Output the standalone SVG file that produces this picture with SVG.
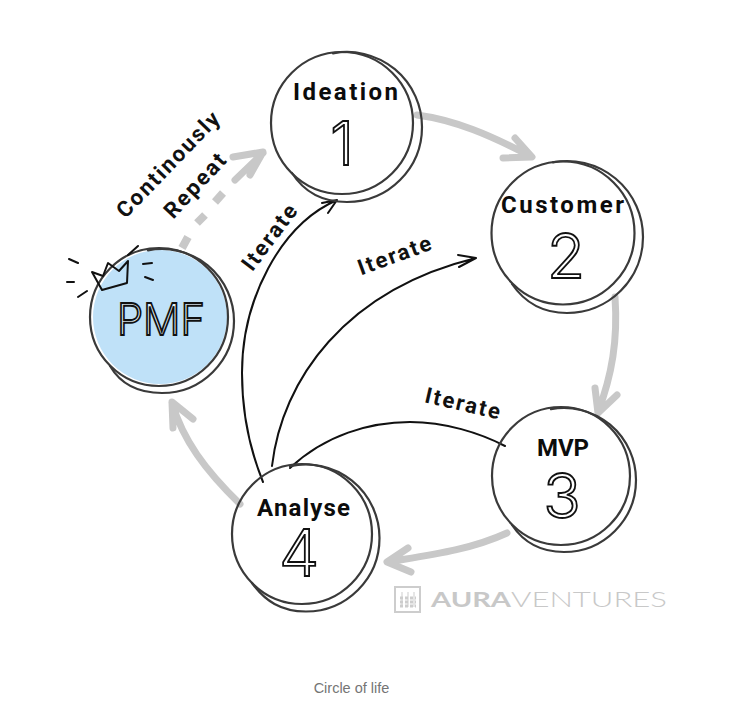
<svg xmlns="http://www.w3.org/2000/svg" width="747" height="722" viewBox="0 0 747 722">
<style>
.ring{fill:none;stroke:#3a3a3a;stroke-width:2.2;stroke-linecap:round}
.lab{font-family:Roboto,"Liberation Sans",sans-serif;font-weight:700;font-size:24px;fill:#0c0c0c;text-anchor:middle}
.side{font-family:Roboto,"Liberation Sans",sans-serif;font-weight:700;font-size:22px;letter-spacing:2px;fill:#111;text-anchor:middle}
.num{font-family:Inter,Lato,sans-serif;font-weight:300;fill:#fff;stroke:#111;stroke-width:1.8;text-anchor:middle}
.grey{fill:none;stroke:#c8c8c8;stroke-width:7;stroke-linecap:round;stroke-linejoin:round}
.ink{fill:none;stroke:#111;stroke-width:2;stroke-linecap:round;stroke-linejoin:round}
</style>
<rect width="747" height="722" fill="#fff"/>
<g id="connectors">
<path class="grey" d="M417 115C455 120 490 135 530 156M515 138L532 157L503 158"/>
<path class="grey" d="M615 297C618 340 612 375 598 412M595 388L598 413L617 395"/>
<path class="grey" d="M507 533C470 550 430 555 388 562M408 548L387 562L411 572"/>
<path class="grey" d="M240 504C205 470 183 440 172 403M173 428L172 402L193 419"/>
<path class="grey" style="stroke-width:8;stroke-linecap:butt" d="M182 248L188 237M197 223L205 215M215 202L223 193"/>
<path class="grey" d="M235 180L263 153M233 157L263 152L250 175"/>
<path class="ink" d="M263 482C250 450 242 415 242 373C242 300 280 225 337 200M322 203L337 200L328 213"/>
<path class="ink" d="M272 466C282 380 345 290 476 258M458 255L476 258L459 267"/>
<path class="ink" d="M290 468C325 435 370 422 410 422C445 422 480 433 505 446"/>
</g>
<g id="node-pmf">
<circle cx="160" cy="317" r="67" fill="#bfe1f8"/>
<circle class="ring" cx="159" cy="317" r="69"/>
<path class="ring" d="M148 250.400A72 72 0 0 1 234 321A72 72 0 0 1 162 393C137 393 120 383 110 366"/>
<path class="ink" d="M92 272L102 290L127 283L128 261L119 271L108 263L103 276Z"/>
<path class="ink" d="M69 259L78 263M67 282L74 282M78 297L87 291M143 264L152 263M145 277L153 280M138 246L128 255"/>
<text class="num" x="161" y="335" font-size="44" style="fill:#e4f2fc" textLength="88" lengthAdjust="spacingAndGlyphs">PMF</text>
</g>
<g id="node-ideation">
<circle class="ring" cx="342" cy="123" r="71"/>
<path class="ring" d="M333 53.300A75 75 0 0 1 422 127A75 75 0 0 1 347 202C322 202 304 192 292 173"/>
<text class="lab" x="345.500" y="100" textLength="105">Ideation</text>
<text class="num" x="342" y="165" font-size="60">1</text>
</g>
<g id="node-customer">
<circle class="ring" cx="563" cy="233" r="71.500"/>
<path class="ring" d="M553 162.300A76 76 0 0 1 643 237A76 76 0 0 1 567 313C542 313 525 303 512 284"/>
<text class="lab" x="562.500" y="213" textLength="123">Customer</text>
<text class="num" x="566" y="278" font-size="62">2</text>
</g>
<g id="node-mvp">
<circle class="ring" cx="561" cy="476" r="69"/>
<path class="ring" d="M551 409.200A72 72 0 0 1 636 480A72 72 0 0 1 564 552C540 552 524 543 512 525"/>
<text class="lab" x="563" y="456" textLength="52">MVP</text>
<text class="num" x="562" y="518" font-size="62">3</text>
</g>
<g id="node-analyse">
<circle class="ring" cx="302" cy="534" r="70"/>
<path class="ring" d="M290 466.300A73.500 73.500 0 0 1 379.500 538A73.500 73.500 0 0 1 306 611.500C281 611.500 265 601 252 583"/>
<text class="lab" x="303.500" y="516" textLength="93">Analyse</text>
<text class="num" x="299" y="576" font-size="64">4</text>
</g>
<g id="labels">
<text class="side" transform="translate(276 241) rotate(-53)">Iterate</text>
<text class="side" transform="translate(398 262) rotate(-20)">Iterate</text>
<text class="side" transform="translate(462 411) rotate(13)">Iterate</text>
<text class="side" transform="translate(174 169) rotate(-46)">Continously</text>
<text class="side" transform="translate(201 190) rotate(-47)">Repeat</text>
</g>
<g id="logo">
<rect x="395" y="587" width="25" height="25" fill="none" stroke="#cdcdcd" stroke-width="2"/>
<path d="M402 592V607M408 592V607M414 592V607" stroke="#cdcdcd" stroke-width="1"/>
<path d="M400 598H416M400 602H416M400 606H416" stroke="#cdcdcd" stroke-width="3" stroke-dasharray="3 2"/>
<text x="431" y="607" font-family="Lato,sans-serif" font-weight="700" font-size="21" fill="#c8c8c8" textLength="80" lengthAdjust="spacingAndGlyphs">AURA</text>
<text x="511" y="607" font-family="Lato,sans-serif" font-weight="300" font-size="21" fill="#c8c8c8" textLength="156" lengthAdjust="spacingAndGlyphs">VENTURES</text>
</g>
<text id="caption" x="351.500" y="693" font-family="Liberation Sans,sans-serif" font-size="14.500" fill="#757575" text-anchor="middle">Circle of life</text>
</svg>
